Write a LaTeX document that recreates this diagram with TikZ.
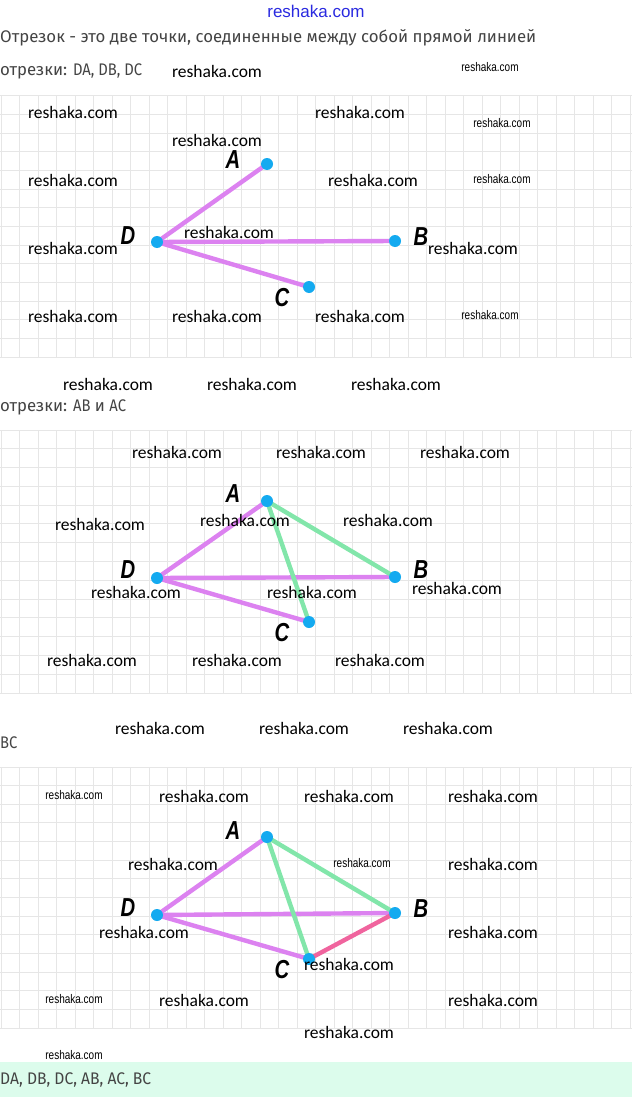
\documentclass[tikz,border=0pt]{standalone}
\usepackage{fontspec}
\usepackage{graphicx}
\setmainfont{Fira Sans}
\newfontfamily\wmfont{Carlito}
\newfontfamily\arialfont{Liberation Sans}
\definecolor{segv}{HTML}{DC82F0}
\definecolor{segg}{HTML}{82E6AA}
\definecolor{segp}{HTML}{F0649E}
\definecolor{dotblue}{HTML}{14AAF0}
\definecolor{gridc}{HTML}{E6E6E6}
\definecolor{txtgray}{HTML}{444444}
\definecolor{bandgreen}{HTML}{DCFCEC}
\definecolor{wmblue}{HTML}{2A2AE0}
\newcommand\mygrid[2]{%
  \foreach \gx in {0,...,34} \draw[gridline] ({1+18.5*\gx},#1) -- ({1+18.5*\gx},#2);
  \foreach \gy in {0,...,14} \draw[gridline] (0,{#1+(#2-#1)*\gy/14}) -- (632,{#1+(#2-#1)*\gy/14});
}
\newcommand\wmsmall[1]{\scalebox{0.8}[1]{#1}}
\newcommand\lbl[1]{\scalebox{0.78}[1]{#1}}
\newcommand\latn[1]{\scalebox{0.88}[1]{#1}}
\tikzset{
  gridline/.style={gridc, line width=1pt},
  wm/.style={font=\wmfont\fontsize{17.5}{20}\selectfont, text=black, inner sep=0pt},
  wms/.style={font=\arialfont\fontsize{12.5}{14}\selectfont, text=black, inner sep=0pt},
  ptlabel/.style={font=\arialfont\bfseries\itshape\fontsize{26}{28}\selectfont, text=black, inner sep=0pt},
  pt/.style={circle, fill=dotblue, minimum size=12pt, inner sep=0pt},
  seg/.style={line width=4.4pt, line cap=round},
  body/.style={font=\fontsize{16.8}{19}\selectfont, text=txtgray, inner sep=0pt, anchor=west},
}
\begin{document}
\begin{tikzpicture}[x=1pt,y=-1pt]
\useasboundingbox (0,0) rectangle (632,1097);
\fill[white] (0,0) rectangle (632,1097);
% header
\node[font=\arialfont\fontsize{17}{19}\selectfont, text=wmblue, inner sep=0pt] (top) at (316,11) {reshaka.com};
\node[body] (t1) at (0,38) {Отрезок - это две точки, соединенные между собой прямой линией};
\node[body] (t2) at (0,71) {отрезки: \latn{DA, DB, DC}};
\node[wm] (w0a) at (217,71) {reshaka.com};
\node[wms] (w0b) at (490,67) {\wmsmall{reshaka.com}};
% ===== panel 1 =====
\mygrid{96}{357}
\node[wm] (w1a) at (73,112) {reshaka.com};
\node[wm] (w1b) at (360,112) {reshaka.com};
\node[wms] (w1c) at (502,123) {\wmsmall{reshaka.com}};
\node[wm] (w1d) at (217,140) {reshaka.com};
\node[wm] (w1e) at (73,180) {reshaka.com};
\node[wm] (w1f) at (373,180) {reshaka.com};
\node[wms] (w1g) at (502,179) {\wmsmall{reshaka.com}};
\node[wm] (w1i) at (73,248) {reshaka.com};
\node[wm] (w1j) at (473,248) {reshaka.com};
\node[wm] (w1k) at (73,316) {reshaka.com};
\node[wm] (w1l) at (217,316) {reshaka.com};
\node[wm] (w1m) at (360,316) {reshaka.com};
\node[wms] (w1n) at (490,315) {\wmsmall{reshaka.com}};
\coordinate (A1) at (267,164);
\coordinate (D1) at (157,242);
\coordinate (B1) at (395,241);
\coordinate (C1) at (309,287);
\draw[seg, segv] (D1) -- (A1);
\draw[seg, segv] (D1) -- (B1);
\draw[seg, segv] (D1) -- (C1);
\node[wm] (w1h) at (229,232) {reshaka.com};
\foreach \p in {A1,D1,B1,C1} \node[pt] (\p dot) at (\p) {};
\node[ptlabel] (lA1) at (233,160) {\lbl{A}};
\node[ptlabel] (lD1) at (128,236) {\lbl{D}};
\node[ptlabel] (lB1) at (421,237) {\lbl{B}};
\node[ptlabel] (lC1) at (282,298) {\lbl{C}};
% between
\node[wm] (wb1) at (108,384) {reshaka.com};
\node[wm] (wb2) at (252,384) {reshaka.com};
\node[wm] (wb3) at (396,384) {reshaka.com};
\node[body] (t3) at (0,407) {отрезки: \latn{AB} и \latn{AC}};
% ===== panel 2 =====
\mygrid{430}{693}
\node[wm] (w2a) at (177,452) {reshaka.com};
\node[wm] (w2b) at (321,452) {reshaka.com};
\node[wm] (w2c) at (465,452) {reshaka.com};
\node[wm] (w2d) at (100,524) {reshaka.com};
\node[wm] (w2k) at (92,660) {reshaka.com};
\node[wm] (w2l) at (237,660) {reshaka.com};
\node[wm] (w2m) at (380,660) {reshaka.com};
\coordinate (A2) at (267,501);
\coordinate (D2) at (157,578);
\coordinate (B2) at (395,577);
\coordinate (C2) at (309,622);
\draw[seg, segv] (D2) -- (A2);
\draw[seg, segv] (D2) -- (B2);
\draw[seg, segv] (D2) -- (C2);
\draw[seg, segg] (A2) -- (B2);
\draw[seg, segg] (A2) -- (C2);
\foreach \p in {A2,D2,B2,C2} \node[pt] (\p dot) at (\p) {};
\node[wm] (w2e) at (245,520) {reshaka.com};
\node[wm] (w2f) at (388,520) {reshaka.com};
\node[wm] (w2g) at (136,592) {reshaka.com};
\node[wm] (w2h) at (312,592) {reshaka.com};
\node[wm] (w2i) at (457,588) {reshaka.com};
\node[ptlabel] (lA2) at (233,494) {\lbl{A}};
\node[ptlabel] (lD2) at (128,570) {\lbl{D}};
\node[ptlabel] (lB2) at (421,570) {\lbl{B}};
\node[ptlabel] (lC2) at (282,633) {\lbl{C}};
% between
\node[wm] (wc1) at (160,728) {reshaka.com};
\node[wm] (wc2) at (304,728) {reshaka.com};
\node[wm] (wc3) at (448,728) {reshaka.com};
\node[body] (t4) at (0,743) {\latn{BC}};
% ===== panel 3 =====
\mygrid{767}{1028}
\node[wms] (w3a) at (74,795) {\wmsmall{reshaka.com}};
\node[wm] (w3b) at (204,796) {reshaka.com};
\node[wm] (w3c) at (349,796) {reshaka.com};
\node[wm] (w3d) at (493,796) {reshaka.com};
\node[wm] (w3g) at (493,864) {reshaka.com};
\node[wm] (w3i) at (493,932) {reshaka.com};
\node[wms] (w3k) at (74,999) {\wmsmall{reshaka.com}};
\node[wm] (w3l) at (204,1000) {reshaka.com};
\node[wm] (w3m) at (493,1000) {reshaka.com};
\coordinate (A3) at (267,837);
\coordinate (D3) at (157,915);
\coordinate (B3) at (395,913);
\coordinate (C3) at (309,959);
\draw[seg, segv] (D3) -- (A3);
\draw[seg, segv] (D3) -- (B3);
\draw[seg, segv] (D3) -- (C3);
\draw[seg, segg] (A3) -- (B3);
\draw[seg, segg] (A3) -- (C3);
\draw[seg, segp] (B3) -- (C3);
\foreach \p in {A3,D3,B3,C3} \node[pt] (\p dot) at (\p) {};
\node[wm] (w3e) at (173,864) {reshaka.com};
\node[wms] (w3f) at (362,863) {\wmsmall{reshaka.com}};
\node[wm] (w3h) at (144,932) {reshaka.com};
\node[wm] (w3j) at (349,964) {reshaka.com};
\node[ptlabel] (lA3) at (233,831) {\lbl{A}};
\node[ptlabel] (lD3) at (128,908) {\lbl{D}};
\node[ptlabel] (lB3) at (421,909) {\lbl{B}};
\node[ptlabel] (lC3) at (282,970) {\lbl{C}};
\node[wm] (w3n) at (349,1032) {reshaka.com};
\node[wms] (w3o) at (74,1055) {\wmsmall{reshaka.com}};
% answer band
\fill[bandgreen] (0,1062) rectangle (632,1097);
\node[body] (t5) at (0,1080) {\scalebox{0.93}[1]{DA, DB, DC, AB, AC, BC}};
\end{tikzpicture}
\end{document}
